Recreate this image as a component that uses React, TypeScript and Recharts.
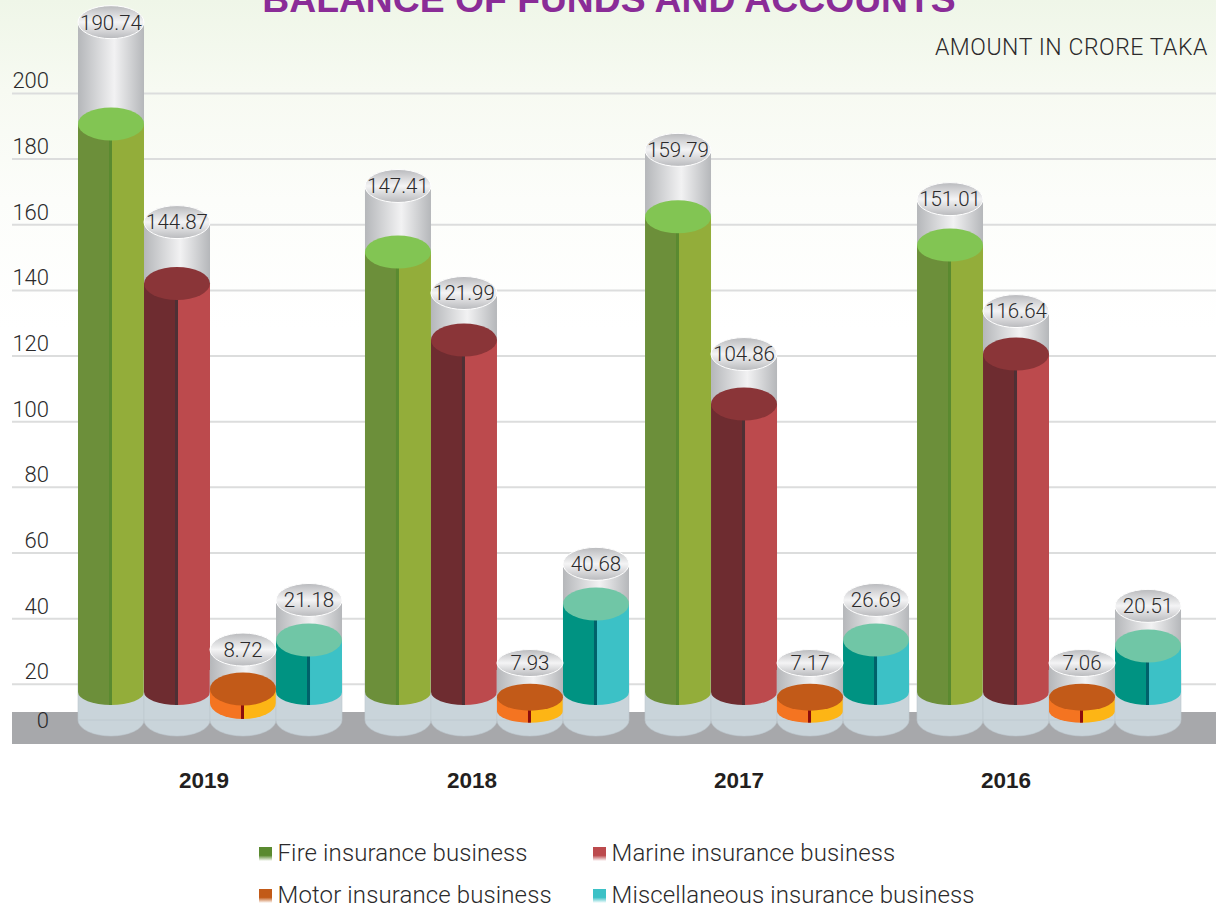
import React from "react";
import { ComposedChart, Bar, XAxis, YAxis, CartesianGrid, ReferenceArea, LabelList } from "recharts";

const years = ["2019", "2018", "2017", "2016"];
const yearSlots = [1.41, 5.47, 9.515, 13.56];
const groupSlots = [0, 4.348, 8.591, 12.712];
const seriesNames = ["Fire insurance business", "Marine insurance business", "Motor insurance business", "Miscellaneous insurance business"];

// printed values
const fireValues = [190.74, 147.41, 159.79, 151.01];
const marineValues = [144.87, 121.99, 104.86, 116.64];
const motorValues = [8.72, 7.93, 7.17, 7.06];
const miscValues = [21.18, 40.68, 26.69, 20.51];
// level of the liquid, read against the axis
const fireLevel = [190.7, 151.7, 162.4, 153.8];
const marineLevel = [142.1, 124.9, 105.4, 120.6];
const motorLevel = [18.6, 16.1, 16.1, 16.1];
const miscLevel = [33.5, 44.5, 33.5, 31.7];
// height of the glass, read against the axis
const fireGlass = [221.7, 171.8, 182.8, 167.8];
const marineGlass = [160.8, 139.2, 120.6, 133.7];
const motorGlass = [30.6, 26.5, 26.5, 26.5];
const miscGlass = [45.7, 56.7, 45.7, 43.9];

const yTicks = [0, 20, 40, 60, 80, 100, 120, 140, 160, 180, 200];
const gridValues = [20, 40, 60, 80, 100, 120, 140, 160, 180, 200];

const values = [fireValues, marineValues, motorValues, miscValues];
const levels = [fireLevel, marineLevel, motorLevel, miscLevel];
const glasses = [fireGlass, marineGlass, motorGlass, miscGlass];

const rows = years.flatMap((year, g) =>
  values.map((v, s) => ({
    slot: groupSlots[g] + s,
    year,
    series: s,
    level: levels[s][g],
    headroom: +(glasses[s][g] - levels[s][g]).toFixed(2),
    label: v[g].toFixed(2),
    flat: s === 2 && g > 0,
  }))
);

const palette = [
  { left: "#6c8f3a", right: "#93ad3a", cap: "#82c553", bar: "#5a8a30", key: "#5a8a30" },
  { left: "#6e2c30", right: "#bc4a4d", cap: "#8a3538", bar: "#4e3035", key: "#bc4a4d" },
  { left: "#f47421", right: "#fdb515", cap: "#c25a18", bar: "#8b0d0d", key: "#c25a18" },
  { left: "#009382", right: "#3cc1c6", cap: "#70c6a6", bar: "#00616a", key: "#3cc1c6" },
];

const LIGHT = "Roboto, 'Liberation Sans', sans-serif";
const INK = "#2b2a2b";

function LevelShape(props: any) {
  const { x, y, width, height, payload } = props;
  const p = palette[payload.series];
  const zero = y + height;
  const cx = x + width / 2;
  const rx = width / 2;
  const glassY = zero - 30;
  const isMotor = payload.series === 2;
  const baseY = isMotor ? y + 14 : zero - 58;
  const ry = isMotor ? (payload.flat ? 11.5 : 16) : 13;
  return (
    <g>
      <path
        d={`M${x},670 L${x},${glassY} A${rx},16 0 0 0 ${x + width},${glassY} L${x + width},670 Z`}
        fill="#c9d4da"
        stroke="#bdc8ce"
        strokeWidth={0.6}
      />
      <line x1={x} x2={x + width} y1={glassY} y2={glassY} stroke="#bcc7cd" strokeWidth={0.8} />
      <path d={`M${x},${y} L${x},${baseY} A${rx},${ry} 0 0 0 ${cx},${baseY + ry} L${cx},${y} Z`} fill={p.left} />
      <path d={`M${cx},${y} L${cx},${baseY + ry} A${rx},${ry} 0 0 0 ${x + width},${baseY} L${x + width},${y} Z`} fill={p.right} />
      <rect x={cx - 2} y={y} width={3} height={baseY + ry - y} fill={p.bar} />
    </g>
  );
}

function GlassShape(props: any) {
  const { x, y, width, height, payload } = props;
  const p = palette[payload.series];
  const cx = x + width / 2;
  const rx = width / 2;
  const ry = payload.flat ? 13.5 : 16.5;
  return (
    <g>
      <rect x={x} y={y} width={width} height={height} fill="url(#glassBody)" />
      <ellipse cx={cx} cy={y + height} rx={rx} ry={ry} fill={p.cap} />
      <ellipse cx={cx} cy={y} rx={rx} ry={ry} fill="url(#glassCap)" stroke="#ffffff" strokeWidth={1} />
    </g>
  );
}

function CapLabel(props: any) {
  const { x, y, width, value } = props;
  return (
    <text x={x + width / 2} y={y} dy="0.36em" textAnchor="middle" fontFamily={LIGHT} fontWeight={300} fontSize={20.5} fill={INK}>
      {value}
    </text>
  );
}

function YTick(props: any) {
  const { y, payload } = props;
  const lift = payload.value === 0 ? 30 : 13;
  return (
    <text x={49} y={y - lift} dy="0.36em" textAnchor="end" fontFamily={LIGHT} fontWeight={300} fontSize={22} fill={INK}>
      {payload.value}
    </text>
  );
}

function YearTick(props: any) {
  const { x, payload } = props;
  const i = yearSlots.indexOf(payload.value);
  return (
    <text x={x} y={780} dy="0.36em" textAnchor="middle" fontFamily="'Liberation Sans', Arial, sans-serif" fontWeight={700} fontSize={22.5} fill="#231f20">
      {years[i]}
    </text>
  );
}

const legendCols = [259, 593];
const legendRows = [853, 895];

export default function App() {
  return (
    <div
      style={{
        position: "absolute",
        left: 0,
        top: 0,
        width: 1216,
        height: 908,
        overflow: "hidden",
        background: "linear-gradient(180deg,#eff6e8 0px,#f7faf2 90px,#fcfdfa 200px,#ffffff 330px)",
      }}
    >
      <ComposedChart width={1216} height={908} data={rows} margin={{ top: 0, right: 0, bottom: 157, left: 11 }}>
        <defs>
          <linearGradient id="glassBody" x1="0" x2="1" y1="0" y2="0">
            <stop offset="0" stopColor="#b5b7ba" />
            <stop offset="0.55" stopColor="#f2f2f3" />
            <stop offset="1" stopColor="#b5b7ba" />
          </linearGradient>
          <linearGradient id="glassCap" x1="0" x2="0" y1="0" y2="1">
            <stop offset="0" stopColor="#b9babd" />
            <stop offset="0.5" stopColor="#f4f4f5" />
            <stop offset="1" stopColor="#b9babd" />
          </linearGradient>
          {palette.map((p, i) => (
            <linearGradient key={i} id={`key${i}`} x1="0" x2="0" y1="0" y2="1">
              <stop offset="0" stopColor={p.key} />
              <stop offset="0.6" stopColor={p.key} />
              <stop offset="1" stopColor="#ffffff" />
            </linearGradient>
          ))}
        </defs>
        <CartesianGrid vertical={false} horizontalValues={gridValues} stroke="#dcdddd" strokeWidth={2} />
        <ReferenceArea y1={1.83} y2={11.57} fill="#a7a8ab" fillOpacity={1} stroke="none" />
        <XAxis
          dataKey="slot"
          type="number"
          domain={[-1.5, 16.742]}
          ticks={yearSlots}
          height={1}
          axisLine={false}
          tickLine={false}
          tick={<YearTick />}
          allowDataOverflow
        />
        <YAxis
          type="number"
          domain={[0, 228.45]}
          ticks={yTicks}
          width={1}
          axisLine={false}
          tickLine={false}
          tick={<YTick />}
          interval={0}
          allowDataOverflow
        />
        <Bar dataKey="level" stackId="cyl" barSize={66} shape={<LevelShape />} isAnimationActive={false} />
        <Bar dataKey="headroom" stackId="cyl" barSize={66} shape={<GlassShape />} isAnimationActive={false}>
          <LabelList dataKey="label" content={<CapLabel />} />
        </Bar>
        <text x={609} y={12} textAnchor="middle" fontFamily="'Liberation Sans', Arial, sans-serif" fontWeight={700} fontSize={37.3} fill="#8a2c97">
          BALANCE OF FUNDS AND ACCOUNTS
        </text>
        <text x={1208} y={55} textAnchor="end" fontFamily={LIGHT} fontWeight={300} fontSize={23} letterSpacing={0.55} fill={INK}>
          AMOUNT IN CRORE TAKA
        </text>
        {seriesNames.map((name, i) => {
          const lx = legendCols[i % 2];
          const ly = legendRows[i < 2 ? 0 : 1];
          return (
            <g key={name}>
              <rect x={lx} y={ly - 6} width={13} height={14} fill={`url(#key${i})`} />
              <text x={lx + 18.5} y={ly - 1} dy="0.36em" fontFamily={LIGHT} fontWeight={300} fontSize={24} letterSpacing={0.12} fill={INK}>
                {name}
              </text>
            </g>
          );
        })}
      </ComposedChart>
    </div>
  );
}
